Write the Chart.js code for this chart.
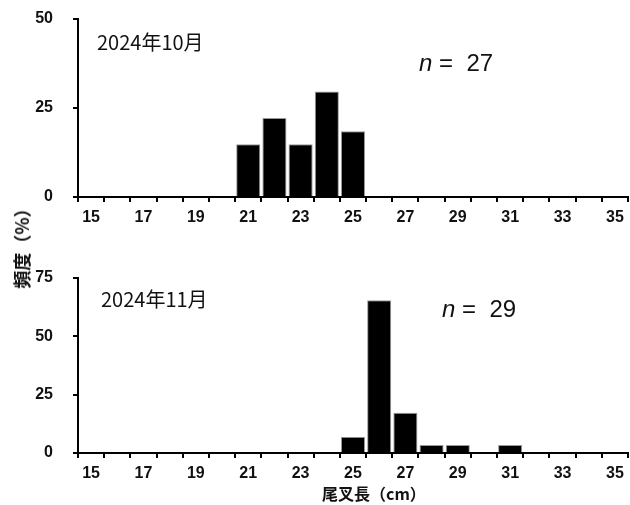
<!DOCTYPE html>
<html>
<head>
<meta charset="utf-8">
<script src="https://cdn.jsdelivr.net/npm/chart.js@4"></script>
<style>
  html, body { margin: 0; padding: 0; background: #fff; }
  #wrap { position: relative; width: 630px; height: 505px; overflow: hidden; }
  canvas { position: absolute; left: 0; }
  .txt { position: absolute; white-space: nowrap; color: #111; line-height: 1; }
  .yr { font-family: "Noto Sans CJK JP", sans-serif; font-size: 20px; }
  .n { font-family: "Liberation Sans Narrow", "Liberation Sans", sans-serif; font-size: 24px; }
  .ttl { font-family: "Noto Sans CJK JP", sans-serif; font-size: 16px; font-weight: bold; }
</style>
</head>
<body>
<div id="wrap">
  <canvas id="oct" width="630" height="240" style="top:0"></canvas>
  <canvas id="nov" width="630" height="265" style="top:240px"></canvas>
  <div class="txt yr" style="left:97px; top:32px">2024年10月</div>
  <div class="txt n" style="left:419px; top:51px"><i>n</i> =&nbsp; 27</div>
  <div class="txt yr" style="left:101px; top:289px">2024年11月</div>
  <div class="txt n" style="left:442px; top:297px"><i>n</i> =&nbsp; 29</div>
  <div class="txt ttl" style="left:21px; top:244px; font-size:18px; transform: translate(-50%,-50%) rotate(-90deg)">頻度（%）</div>
  <div class="txt ttl" style="left:322px; top:485px">尾叉長（cm）</div>
</div>
<script>
const lengths = [15, 16, 17, 18, 19, 20, 21, 22, 23, 24, 25, 26, 27, 28, 29, 30, 31, 32, 33, 34, 35];
const octPct = [0, 0, 0, 0, 0, 0, 14.8, 22.2, 14.8, 29.6, 18.5, 0, 0, 0, 0, 0, 0, 0, 0, 0, 0];
const novPct = [0, 0, 0, 0, 0, 0, 0, 0, 0, 0, 6.9, 65.5, 17.2, 3.4, 3.4, 0, 3.4, 0, 0, 0, 0];
const octTicks = [0, 25, 50];
const novTicks = [0, 25, 50, 75];

const tickFont = { family: "'Liberation Sans Narrow', 'Liberation Sans', sans-serif", size: 16, weight: "bold" };

function makeHist(id, values, yTicks, padTop, axisH) {
  const yMax = yTicks[yTicks.length - 1];
  return new Chart(document.getElementById(id), {
    type: "bar",
    data: {
      labels: lengths,
      datasets: [{
        data: values,
        backgroundColor: "#000",
        borderColor: "#9a9a9a",
        borderWidth: 1,
        barPercentage: 0.92,
        categoryPercentage: 1
      }]
    },
    options: {
      responsive: false,
      animation: false,
      layout: { padding: { top: padTop, right: 2, left: 0, bottom: 0 } },
      plugins: { legend: { display: false }, tooltip: { enabled: false } },
      scales: {
        x: {
          offset: true,
          grid: { offset: true, drawOnChartArea: false, drawTicks: true, tickLength: 5, color: "#000", lineWidth: 2 },
          border: { display: true, color: "#000", width: 2 },
          ticks: {
            autoSkip: false, maxRotation: 0, padding: 6, color: "#111", font: tickFont,
            callback: (v, i) => (lengths[i] % 2 === 1 ? String(lengths[i]) : "")
          },
          afterFit: s => { s.height = axisH; }
        },
        y: {
          min: 0, max: yMax,
          afterBuildTicks: s => { s.ticks = yTicks.map(v => ({ value: v })); },
          grid: { drawOnChartArea: false, drawTicks: true, tickLength: 5, color: "#000", lineWidth: 2 },
          border: { display: true, color: "#000", width: 2 },
          ticks: { padding: 20, color: "#111", font: tickFont },
          afterFit: s => { s.width = 78; s.paddingTop = 0; s.paddingBottom = 0; }
        }
      }
    }
  });
}

makeHist("oct", octPct, octTicks, 19, 43);
makeHist("nov", novPct, novTicks, 38, 52);
</script>
</body>
</html>
